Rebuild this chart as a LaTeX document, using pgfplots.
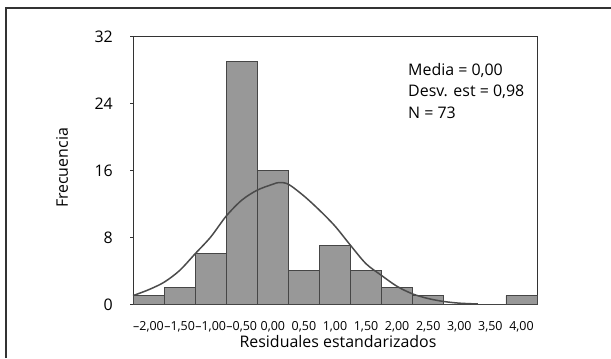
\documentclass[border=0pt]{standalone}
\usepackage{fontspec}
\setmainfont{Open Sans}
\usepackage{pgfplots}
\pgfplotsset{compat=1.18}
\definecolor{barfill}{RGB}{152,152,152}
\definecolor{baredge}{RGB}{70,70,70}
\definecolor{curve}{RGB}{75,75,75}
\begin{document}
\begin{tikzpicture}[x=1bp,y=1bp]
\useasboundingbox (0,0) rectangle (611,358);
\draw[line width=1.8bp, black!80] (6,0) -- (6,350) -- (611,350);
\begin{axis}[
  at={(133bp,54bp)}, anchor=south west,
  scale only axis, width=404bp, height=268bp,
  xmin=-2.25, xmax=4.25, ymin=0, ymax=32,
  xtick={-2,-1.5,...,4},
  xticklabels={{–2,00},{–1,50},{–1,00},{–0,50},{0,00},{0,50},{1,00},{1,50},{2,00},{2,50},{3,00},{3,50},{4,00}},
  ytick={0,8,16,24,32},
  ytick pos=left,
  x tick style={draw=none},
  y tick style={black!80, line width=0.8bp},
  tick align=outside, major tick length=3bp,
  axis line style={black!80, line width=0.9bp},
  x tick label style={font=\fontsize{12.5}{14}\selectfont, anchor=base, inner sep=0pt, yshift=-23bp},
  y tick label style={font=\fontsize{16}{18}\selectfont, anchor=east, inner sep=0pt, xshift=-17bp, yshift=-1bp},
  /pgf/number format/assume math mode=true,
  clip=false,
]
\addplot[ybar interval, fill=barfill, draw=baredge, line width=0.6bp] coordinates {
  (-2.25,1) (-1.75,2) (-1.25,6) (-0.75,29) (-0.25,16) (0.25,4) (0.75,7)
  (1.25,4) (1.75,2) (2.25,1) (2.75,0) (3.25,0) (3.75,1) (4.25,1)
};
\addplot[smooth, color=curve, line width=1.5bp] coordinates {
  (-2.25,1.0) (-2.0,1.7) (-1.75,2.6) (-1.5,4.0) (-1.25,6.0) (-1.0,8.0)
  (-0.75,10.5) (-0.5,12.4) (-0.25,13.6) (0.0,14.3) (0.1,14.5) (0.25,14.3)
  (0.5,12.9) (0.75,11.2) (1.0,9.3) (1.25,7.0) (1.5,4.8) (1.75,3.4)
  (2.0,2.1) (2.25,1.2) (2.5,0.65) (2.75,0.3) (3.0,0.1) (3.3,0.0)
};
\end{axis}
\node[font=\fontsize{16}{18}\selectfont, inner sep=0pt] at (338,16) {Residuales estandarizados};
\node[font=\fontsize{16}{18}\selectfont, inner sep=0pt, rotate=90] at (62,190) {Frecuencia};
\begin{scope}[every node/.style={anchor=base west, inner sep=0pt, font=\fontsize{16}{18}\selectfont}]
\node at (408,283) {Media = 0,00};
\node at (408,262) {Desv. est = 0,98};
\node at (408,239.5) {N = 73};
\end{scope}
\end{tikzpicture}
\end{document}
